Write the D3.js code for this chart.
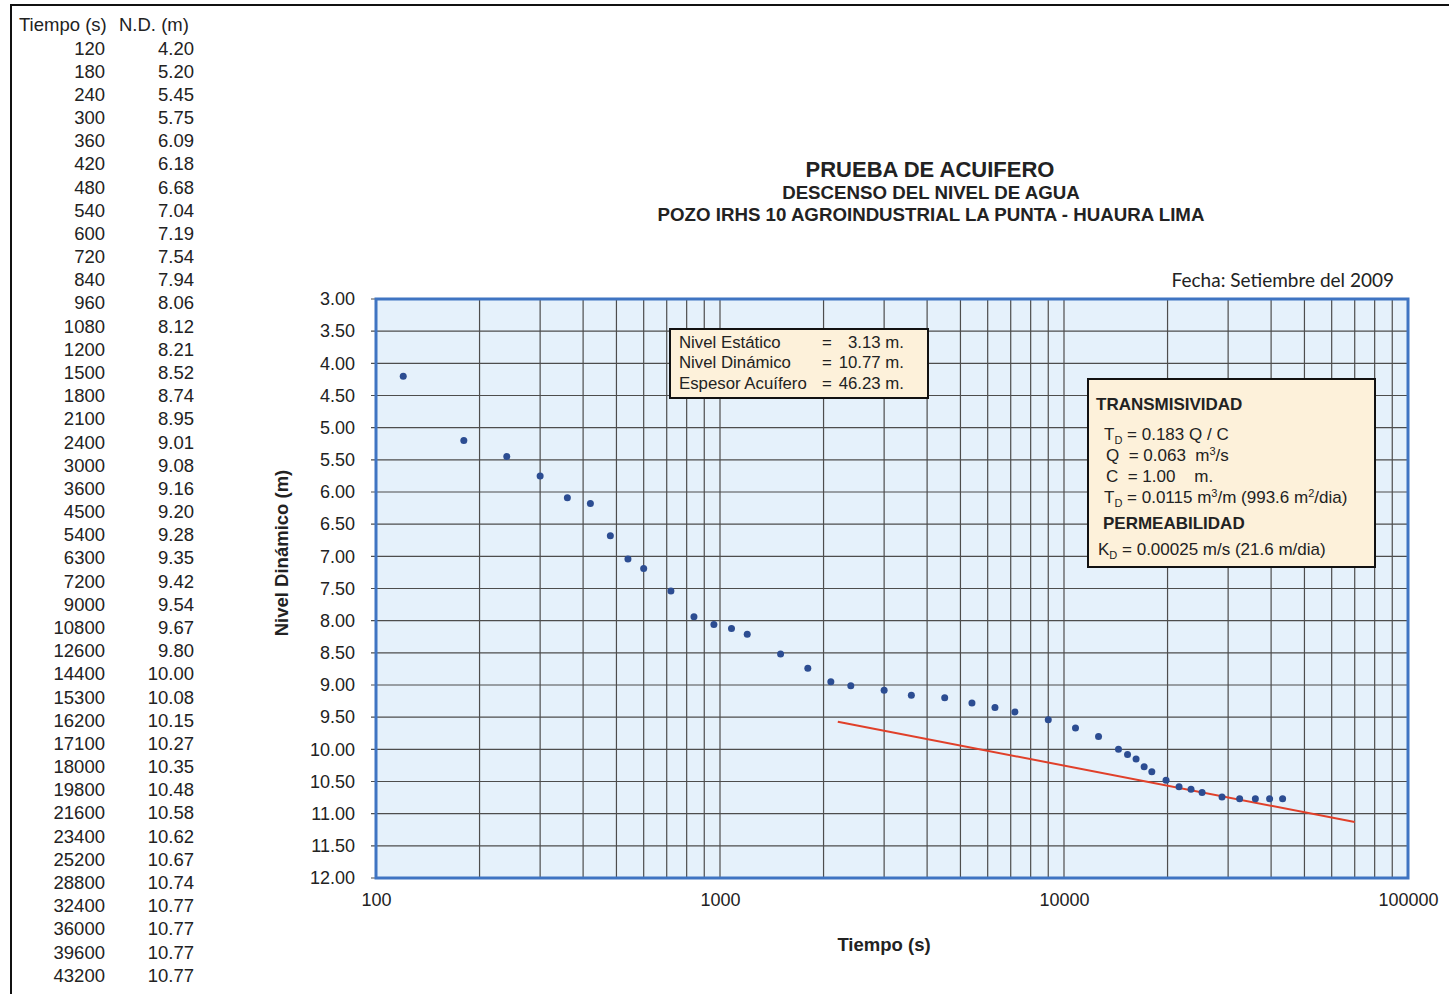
<!DOCTYPE html>
<html><head><meta charset="utf-8">
<script src="https://cdn.jsdelivr.net/npm/d3@7"></script>
<style>
body{margin:0;background:#fff;}
svg text{font-family:"Liberation Sans",Arial,sans-serif;fill:#222;white-space:pre;}
</style></head>
<body><svg id="c" width="1449" height="994"></svg>
<script>
const tiempo = [120,180,240,300,360,420,480,540,600,720,840,960,1080,1200,1500,1800,2100,2400,3000,3600,4500,5400,6300,7200,9000,10800,12600,14400,15300,16200,17100,18000,19800,21600,23400,25200,28800,32400,36000,39600,43200];
const nivel = [4.20,5.20,5.45,5.75,6.09,6.18,6.68,7.04,7.19,7.54,7.94,8.06,8.12,8.21,8.52,8.74,8.95,9.01,9.08,9.16,9.20,9.28,9.35,9.42,9.54,9.67,9.80,10.00,10.08,10.15,10.27,10.35,10.48,10.58,10.62,10.67,10.74,10.77,10.77,10.77,10.77];
const nivelLabels = ["4.20","5.20","5.45","5.75","6.09","6.18","6.68","7.04","7.19","7.54","7.94","8.06","8.12","8.21","8.52","8.74","8.95","9.01","9.08","9.16","9.20","9.28","9.35","9.42","9.54","9.67","9.80","10.00","10.08","10.15","10.27","10.35","10.48","10.58","10.62","10.67","10.74","10.77","10.77","10.77","10.77"];
const rectaT = [2200, 70000];
const rectaN = [9.57, 11.13];
const xTickValues = [100,1000,10000,100000];
const yDomain = [3, 12];

const svg = d3.select("#c");
// outer frame
svg.append("line").attr("x1",11).attr("y1",5).attr("x2",11).attr("y2",994).attr("stroke","#111").attr("stroke-width",2);
svg.append("line").attr("x1",10).attr("y1",5).attr("x2",1449).attr("y2",5).attr("stroke","#111").attr("stroke-width",2);

// table
const tbl = svg.append("g").style("font-size","18.5px");
tbl.append("text").attr("x",19).attr("y",31).text("Tiempo (s)");
tbl.append("text").attr("x",119).attr("y",31).text("N.D. (m)");
tiempo.forEach((t,i)=>{
  const y = 54.5 + i*23.18;
  tbl.append("text").attr("x",105).attr("y",y).attr("text-anchor","end").text(t);
  tbl.append("text").attr("x",194).attr("y",y).attr("text-anchor","end").text(nivelLabels[i]);
});

// titles
svg.append("text").attr("x",930).attr("y",177).attr("text-anchor","middle").style("font-size","22px").style("font-weight","bold").text("PRUEBA DE ACUIFERO");
svg.append("text").attr("x",931).attr("y",199).attr("text-anchor","middle").style("font-size","18.7px").style("font-weight","bold").text("DESCENSO DEL NIVEL DE AGUA");
svg.append("text").attr("x",931).attr("y",221).attr("text-anchor","middle").style("font-size","18.7px").style("font-weight","bold").text("POZO IRHS 10 AGROINDUSTRIAL LA PUNTA - HUAURA LIMA");
svg.append("text").attr("x",1394).attr("y",287).attr("text-anchor","end").style("font-size","19px").style("font-family","Lato, 'Open Sans', sans-serif").text("Fecha: Setiembre del 2009");

const x = d3.scaleLog().domain([100,100000]).range([376,1408]);
const y = d3.scaleLinear().domain(yDomain).range([299,878]);

// plot bg
svg.append("rect").attr("x",376).attr("y",299).attr("width",1032).attr("height",579).attr("fill","#e5f1fb");

// grid
const g = svg.append("g");
x.ticks().forEach(v=>{
  g.append("line").attr("x1",x(v)).attr("x2",x(v)).attr("y1",299).attr("y2",878).attr("stroke","#4d4d4d").attr("stroke-width",1.2);
});
const yTicks = d3.range(yDomain[0], yDomain[1]+0.001, 0.5);
yTicks.forEach(v=>{
  g.append("line").attr("x1",371).attr("x2",1408).attr("y1",y(v)).attr("y2",y(v)).attr("stroke","#4d4d4d").attr("stroke-width",1.2);
});

// y axis labels
svg.append("g").attr("transform","translate(376,0)")
  .call(d3.axisLeft(y).tickValues(yTicks).tickFormat(d3.format(".2f")).tickSize(0).tickPadding(21))
  .call(s=>{s.select(".domain").remove(); s.selectAll("text").style("font-size","18px").style("font-family","'Liberation Sans',Arial,sans-serif").attr("fill","#222");});
// x axis labels
svg.append("g").attr("transform","translate(0,878)")
  .call(d3.axisBottom(x).tickValues(xTickValues).tickFormat(d3.format("d")).tickSize(0).tickPadding(15))
  .call(s=>{s.select(".domain").remove(); s.selectAll("text").style("font-size","18px").style("font-family","'Liberation Sans',Arial,sans-serif").attr("fill","#222");});

// border
svg.append("rect").attr("x",376).attr("y",299).attr("width",1032).attr("height",579).attr("fill","none").attr("stroke","#3f74c2").attr("stroke-width",3);

// axis titles
svg.append("text").attr("transform","translate(288,553) rotate(-90)").attr("text-anchor","middle").style("font-size","18.5px").style("font-weight","bold").text("Nivel Dinámico (m)");
svg.append("text").attr("x",884).attr("y",951).attr("text-anchor","middle").style("font-size","18.5px").style("font-weight","bold").text("Tiempo (s)");

// red line
svg.append("line").attr("x1",x(rectaT[0])).attr("y1",y(rectaN[0])).attr("x2",x(rectaT[1])).attr("y2",y(rectaN[1])).attr("stroke","#e0402a").attr("stroke-width",2);

// points
svg.append("g").selectAll("circle").data(tiempo).join("circle")
  .attr("cx",d=>x(d)).attr("cy",(d,i)=>y(nivel[i])).attr("r",3.5).attr("fill","#2c4d92");

// box 1
const b1 = svg.append("g").style("font-size","16.8px");
b1.append("rect").attr("x",670).attr("y",329).attr("width",258).attr("height",69).attr("fill","#fdf1da").attr("stroke","#111").attr("stroke-width",2);
const b1rows = [["Nivel Estático","=","3.13 m."],["Nivel Dinámico","=","10.77 m."],["Espesor Acuífero","=","46.23 m."]];
b1rows.forEach((r,i)=>{
  const yy = 347.5 + i*20.5;
  b1.append("text").attr("x",679).attr("y",yy).text(r[0]);
  b1.append("text").attr("x",822).attr("y",yy).text(r[1]);
  b1.append("text").attr("x",904).attr("y",yy).attr("text-anchor","end").text(r[2]);
});

// box 2
const b2 = svg.append("g").style("font-size","17px");
b2.append("rect").attr("x",1088).attr("y",379).attr("width",287).attr("height",188).attr("fill","#fdf1da").attr("stroke","#111").attr("stroke-width",2);
b2.append("text").attr("x",1096).attr("y",410).style("font-weight","bold").text("TRANSMISIVIDAD");
let t;
t = b2.append("text").attr("x",1104).attr("y",440);
t.append("tspan").text("T");
t.append("tspan").attr("dy",4).style("font-size","11px").text("D");
t.append("tspan").attr("dy",-4).text(" = 0.183 Q / C");
t = b2.append("text").attr("x",1106).attr("y",461);
t.append("tspan").text("Q  = 0.063  m");
t.append("tspan").attr("dy",-6).style("font-size","11px").text("3");
t.append("tspan").attr("dy",6).text("/s");
b2.append("text").attr("x",1106).attr("y",482).text("C  = 1.00    m.");
t = b2.append("text").attr("x",1104).attr("y",503);
t.append("tspan").text("T");
t.append("tspan").attr("dy",4).style("font-size","11px").text("D");
t.append("tspan").attr("dy",-4).text(" = 0.0115 m");
t.append("tspan").attr("dy",-6).style("font-size","11px").text("3");
t.append("tspan").attr("dy",6).text("/m (993.6 m");
t.append("tspan").attr("dy",-6).style("font-size","11px").text("2");
t.append("tspan").attr("dy",6).text("/dia)");
b2.append("text").attr("x",1103).attr("y",529).style("font-weight","bold").text("PERMEABILIDAD");
t = b2.append("text").attr("x",1098).attr("y",555);
t.append("tspan").text("K");
t.append("tspan").attr("dy",4).style("font-size","11px").text("D");
t.append("tspan").attr("dy",-4).text(" = 0.00025 m/s (21.6 m/dia)");
</script></body></html>
